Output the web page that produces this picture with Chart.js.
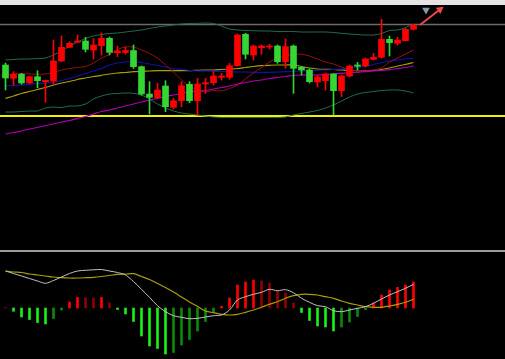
<!DOCTYPE html>
<html>
<head>
<meta charset="utf-8">
<title>K-line MACD</title>
<script src="https://cdn.jsdelivr.net/npm/chart.js@4.4.1/dist/chart.umd.min.js"></script>
<style>
    html, body { margin: 0; padding: 0; background: #000; }
    canvas { display: block; }
</style>
</head>
<body>
<canvas id="chart" width="505" height="359"></canvas>
<script>
//------Dữ liệu nến------
const opens  = [295, 281.7, 285.7, 277, 283.3, 278.3, 279, 299, 312.7, 317.7,
                319, 310, 314.3, 321.7, 307.3, 307.5, 309.5, 293.3, 266, 262.3,
                274, 252.7, 259.3, 275.7, 259.3, 276, 277.3, 282.7, 282.7, 294.3,
                325.7, 305, 312.3, 313, 314, 298.3, 314, 292.7, 290, 278,
                279.3, 286, 269.3, 284, 295, 294, 300.7, 302.7, 320.7, 316.7,
                319.3, 330.7];
const closes = [282, 285.7, 277, 283.3, 279.3, 279.7, 299, 312.7, 316.7, 319,
                310.7, 315, 321.7, 307.7, 309, 309.5, 293.3, 266, 262.7, 270,
                253.3, 259.3, 274.3, 259.3, 276, 277.3, 284, 284, 294.3, 325,
                305.7, 314, 314, 314, 298.3, 313.3, 291.7, 290, 278.3, 283,
                286, 269.3, 284, 294, 293.7, 301, 302.7, 320.7, 317.3, 320,
                330.7, 335];
const highs  = [297, 288.3, 286.7, 284, 289.3, 280, 320, 324, 318.3, 325,
                322.7, 321.5, 327, 323, 314, 313, 315, 294, 278.3, 276.7,
                279.3, 261.7, 278.3, 278.3, 281.7, 281.7, 288.3, 286.7, 296.7, 326,
                326.7, 315, 315, 315.7, 315, 321, 315, 293.3, 291, 285,
                287, 286.5, 285, 295, 297.7, 302, 306.7, 340.7, 324, 322.7,
                331.7, 335.5];
const lows   = [270, 275, 275.7, 276, 272.3, 257.7, 275, 298.3, 312.3, 317.5,
                308, 301, 305, 305, 303.5, 306, 291.5, 265, 246, 261.7,
                248.3, 251, 253.3, 257.3, 245, 266.7, 275, 280, 280.7, 294,
                301, 300, 305.7, 311, 296.7, 291.7, 266.7, 285, 277, 273,
                270, 245, 263.3, 283, 290, 293, 300, 302, 304, 315,
                319, 330];

//------Đường chỉ báo------
const bbUpper = [300, 300.5, 301, 301, 301.5, 302, 305, 309, 314, 318,
                 321.5, 324, 325.5, 326.5, 327, 328, 329, 330, 331.5, 333,
                 334, 335, 336, 336.5, 336.7, 337, 336.5, 334, 331, 330,
                 329.5, 329.3, 329, 329, 328.5, 328.5, 328.5, 328, 328, 328,
                 328, 327.5, 326.7, 326, 325.5, 325, 325, 326.5, 329.5, 330,
                 332.5, 336];
const bbLower = [248, 248, 248.5, 249, 249, 252, 253, 252.5, 254, 254,
                 256, 261, 264, 266, 266.5, 267, 266.7, 265, 261, 256,
                 252, 249, 247, 246, 245, 244, 243, 242.5, 242.5, 242.5,
                 242.5, 242.5, 242.5, 242.5, 242.5, 243, 245, 246.5, 248, 249.5,
                 252, 255, 259, 263, 266, 267.5, 268.5, 269.5, 270, 270,
                 269, 267];
const maRed = [285, 286, 286.5, 286, 285.7, 286, 287.5, 290, 291.5, 292.5,
               293.5, 297, 302, 305.5, 310.5, 313, 313, 310, 306.5, 302,
               295, 288, 280, 274, 270, 268, 269.5, 269, 271.5, 275,
               281, 287, 292.5, 298, 301.7, 304, 305.7, 305.7, 304, 301,
               298, 296, 293, 290, 289.5, 289.3, 290, 292, 298, 302,
               306, 310];
const maBlue = [274, 274.5, 275, 275.7, 276.5, 277, 278, 279.5, 281.5, 284,
                286.5, 289, 291.5, 295, 297, 298, 298.5, 297.5, 296, 294.5,
                293, 291.5, 290.5, 289.7, 289, 289, 288.7, 288.5, 288.3, 288,
                288, 287.7, 287.7, 287.7, 288, 288.3, 288.5, 289, 289.3, 289.7,
                290, 290.5, 291.2, 291.7, 292.5, 294, 295.5, 297.5, 299, 300,
                301, 302];
const maOlive = [261.7, 264, 266.5, 268.5, 270.5, 272.5, 275, 277, 278.5, 280.5,
                 282, 283.5, 284.7, 286, 287, 287.5, 288.3, 288.7, 289, 289.3,
                 289.3, 289.3, 289.3, 289.3, 289.7, 290, 290, 290.5, 291, 291.5,
                 292.5, 293.5, 294.3, 294.7, 295, 295, 295, 293.5, 292, 291,
                 290.7, 290.5, 290, 289.5, 289.3, 289.3, 289.5, 290.5, 292, 294,
                 295.5, 297.5];
const maMagenta = [226, 227.5, 229, 231, 232.5, 234.5, 236, 238, 239.5, 241.7,
                   243.5, 246, 248.5, 250, 252, 254, 256, 258, 260, 261.5,
                   263.5, 265, 266.5, 268, 269, 269.5, 271, 272.5, 274, 276,
                   277.5, 279, 280, 281.5, 282.5, 283.5, 284.5, 285, 285, 285,
                   285.5, 286, 286.7, 287.3, 287.7, 288.3, 289, 289.7, 290.3, 291.5,
                   292.5, 294];
//Đường ngang: xám, vàng
const levels = [335.5, 244];

//------MACD------
const macdHist = [0.5, -3.3, -9, -11.5, -14.5, -16, -10.5, -2, 6, 10.5,
                  10.3, 10, 10.5, 5, -1.5, -6, -13.5, -28, -38, -40.5,
                  -46, -44.5, -37, -31.5, -23, -13.5, -4, 1.7, 10, 23,
                  26, 28, 27, 25, 17.5, 15, 5, -4.5, -12.5, -18,
                  -19, -23, -19, -14, -8.5, -1.7, 5, 13, 18, 20.7,
                  23, 26];
const macdLine = [37, 34.5, 32, 29.5, 27, 24.7, 27.5, 31, 34.5, 37,
                  37.7, 38.2, 38.5, 37, 35.5, 33, 26.5, 18.7, 10.7, 2.3,
                  -3.7, -7.7, -9.3, -10.7, -10.3, -9, -7.7, -7, -2, 8,
                  11.3, 13.7, 15.7, 18.7, 17.3, 18.3, 15.3, 9.7, 5.7, 2.3,
                  1.3, -2.7, -3.7, -2, -0.3, 1.3, 4.7, 9, 13, 16.3,
                  19.7, 23.7];
const signalLine = [37, 36, 35.5, 34, 33, 32, 31, 30.3, 30, 30,
                    30.3, 30.7, 31.5, 32.5, 33.7, 34, 34.3, 31.5, 28.5, 24.5,
                    20.5, 16, 11, 6, 1.5, -3, -4.7, -6.3, -7, -6.3,
                    -4.3, -2, 0.7, 3.7, 6.3, 9.7, 12.3, 13.7, 13.7, 13,
                    11.3, 9.7, 7, 4.7, 3, 1.3, 0.7, 0.7, 2, 3.7,
                    5.7, 8.7];

//Mũi tên và tam giác phía trên
const arrowX = [51.8, 54.3];
const arrowY = [335, 350.5];
const markerX = [52.56];
const markerY = [350];

const xMin = -0.6875, xMax = 62.4375;
const pts = arr => arr.map((v, i) => ({x: i, y: v}));

//Màu nến
const isUp = opens.map((o, i) => closes[i] >= o);
const candleColor = isUp.map(u => u ? '#ff0000' : '#33d633');
//Màu cột MACD: sáng khi tăng độ lớn, tối khi giảm
const histColor = macdHist.map((v, i) => {
    const prev = i > 0 ? macdHist[i - 1] : 0;
    const grow = i > 0 && (Math.sign(v) !== Math.sign(prev) || Math.abs(v) >= Math.abs(prev));
    if (v >= 0) return grow ? '#ff0000' : '#8e0000';
    return grow ? '#18f018' : '#0a8a0a';
});

function lineSet(arr, color, width, axis, order) {
    return {
        type: 'line', data: pts(arr), borderColor: color, borderWidth: width,
        pointRadius: 0, tension: 0.3, yAxisID: axis, order: order
    };
}
function levelSet(v, color, width) {
    return {
        type: 'line', data: [{x: xMin, y: v}, {x: xMax, y: v}],
        borderColor: color, borderWidth: width, pointRadius: 0, yAxisID: 'y', order: 20
    };
}

//Nền, dải trên, vạch phân cách
const khung = {
    id: 'khung',
    beforeDraw(chart) {
        const c = chart.ctx;
        c.save();
        c.fillStyle = '#000';
        c.fillRect(0, 0, chart.width, chart.height);
        c.fillStyle = '#e4e4e4';
        c.fillRect(0, 0, chart.width, 5);
        c.fillStyle = '#9c9c9c';
        c.fillRect(0, 250, chart.width, 2);
        c.restore();
    }
};

const ctx = document.getElementById('chart');
new Chart(ctx, {
    type: 'bar',
    data: {
        datasets: [
            //Thân nến
            {
                data: opens.map((o, i) => ({x: i, y: [o, closes[i]]})),
                backgroundColor: candleColor, barThickness: 6, minBarLength: 1,
                grouped: false, yAxisID: 'y', order: 0
            },
            //Râu nến
            {
                data: lows.map((l, i) => ({x: i, y: [l, highs[i]]})),
                backgroundColor: candleColor, barThickness: 1,
                grouped: false, yAxisID: 'y', order: 1
            },
            lineSet(bbUpper, '#22704a', 1, 'y', 5),
            lineSet(bbLower, '#22704a', 1, 'y', 5),
            lineSet(maRed, '#9a1010', 1, 'y', 4),
            lineSet(maBlue, '#1010a8', 1.2, 'y', 4),
            lineSet(maOlive, '#a8a000', 1.2, 'y', 4),
            lineSet(maMagenta, '#b000b0', 1.2, 'y', 3),
            levelSet(levels[0], '#6c6c6c', 1.5),
            levelSet(levels[1], '#f0f000', 2),
            //Mũi tên
            {
                type: 'line', data: arrowX.map((x, i) => ({x: x, y: arrowY[i]})),
                borderColor: '#f04848', borderWidth: 2, yAxisID: 'y', order: 0,
                pointRadius: [0, 4.5], pointStyle: 'triangle', pointRotation: 54,
                pointBackgroundColor: '#f04848', pointBorderWidth: 0
            },
            {
                type: 'scatter', data: markerX.map((x, i) => ({x: x, y: markerY[i]})),
                pointStyle: 'triangle', pointRotation: 180, pointRadius: 4.5,
                pointBackgroundColor: '#8a9aaa', pointBorderWidth: 0, yAxisID: 'y', order: 0
            },
            //MACD
            {
                data: pts(macdHist), backgroundColor: histColor, barThickness: 2,
                grouped: false, yAxisID: 'y2', order: 2
            },
            lineSet(macdLine, '#c4c4c4', 1, 'y2', 1),
            lineSet(signalLine, '#aaa000', 1.2, 'y2', 1)
        ]
    },
    options: {
        responsive: false,
        animation: false,
        layout: {padding: 0, autoPadding: false},
        scales: {
            x: {type: 'linear', min: xMin, max: xMax, offset: false, display: false},
            y: {min: 1, max: 360, display: false},
            y2: {min: -51, max: 308, display: false}
        },
        plugins: {legend: {display: false}, tooltip: {enabled: false}}
    },
    plugins: [khung]
});
</script>
</body>
</html>
